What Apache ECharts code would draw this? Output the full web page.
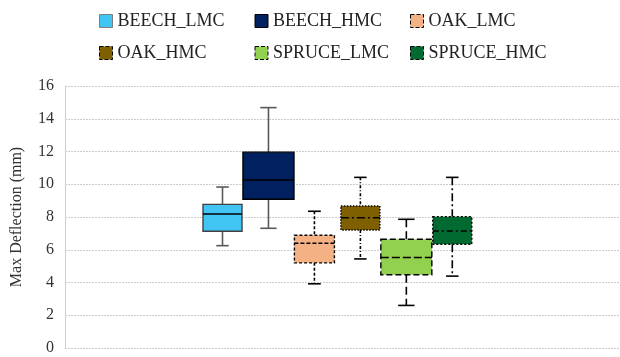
<!DOCTYPE html>
<html>
<head>
<meta charset="utf-8">
<script src="https://cdn.jsdelivr.net/npm/echarts@6/dist/echarts.min.js"></script>
<style>html,body{margin:0;padding:0;background:#fff}#c{width:620px;height:357px}</style>
</head>
<body>
<div id="c"></div>
<script>
// ---- data ----
var seriesNames = ['BEECH_LMC', 'BEECH_HMC', 'OAK_LMC', 'OAK_HMC', 'SPRUCE_LMC', 'SPRUCE_HMC'];
var minValues    = [6.25, 7.31, 3.92, 5.44, 2.60, 4.39];
var q1Values     = [7.13, 9.08, 5.20, 7.21, 4.47, 6.34];
var medianValues = [8.18, 10.26, 6.40, 7.96, 5.52, 7.15];
var q3Values     = [8.77, 11.96, 6.89, 8.67, 6.64, 8.02];
var maxValues    = [9.83, 14.68, 8.35, 10.42, 7.86, 10.42];
var yTicks = [0, 2, 4, 6, 8, 10, 12, 14, 16];

// ---- styles ----
var styles = [
  {fill: '#41c6f3', border: '#404040', borderDash: null, med: '#000', medDash: null, wh: '#595959', whDash: null, width: 39},
  {fill: '#002060', border: '#000000', borderDash: null, med: '#000', medDash: null, wh: '#595959', whDash: null, width: 51},
  {fill: '#f4b183', border: '#000000', borderDash: [3, 2], med: '#000', medDash: [4, 2], wh: '#000', whDash: [3, 2], width: 40},
  {fill: '#7f6000', border: '#000000', borderDash: [1.5, 1.5], med: '#000', medDash: [8, 3, 2, 3], wh: '#000', whDash: [3, 2, 1, 2], width: 39},
  {fill: '#92d050', border: '#000000', borderDash: [6, 3], med: '#000', medDash: [8, 3], wh: '#000', whDash: [8, 4], width: 51},
  {fill: '#006a30', border: '#000000', borderDash: [2, 2], med: '#000', medDash: [6, 3, 2, 3], wh: '#000', whDash: [8, 3, 2, 3], width: 39}
];
var serif = 'Liberation Serif';

function renderItem(params, api) {
  var st = styles[params.seriesIndex];
  var x = api.value(0);
  var cx = api.coord([x, 0])[0];
  var yMin = api.coord([x, api.value(1)])[1];
  var yQ1 = api.coord([x, api.value(2)])[1];
  var yMed = api.coord([x, api.value(3)])[1];
  var yQ3 = api.coord([x, api.value(4)])[1];
  var yMax = api.coord([x, api.value(5)])[1];
  var half = st.width / 2;
  var cap = st.width * 0.16;
  function line(x1, y1, x2, y2, color, dash, w) {
    return {type: 'line', shape: {x1: x1, y1: y1, x2: x2, y2: y2},
      style: {stroke: color, lineWidth: w, lineDash: dash || null, fill: null}};
  }
  return {
    type: 'group',
    children: [
      line(cx, yMax, cx, yQ3, st.wh, st.whDash, 1.6),
      line(cx, yQ1, cx, yMin, st.wh, st.whDash, 1.6),
      line(cx - cap, yMax, cx + cap, yMax, st.wh, null, 1.6),
      line(cx - cap, yMin, cx + cap, yMin, st.wh, null, 1.6),
      {type: 'rect', shape: {x: cx - half, y: yQ3, width: st.width, height: yQ1 - yQ3},
        style: {fill: st.fill, stroke: st.border, lineWidth: 1.4, lineDash: st.borderDash || null}},
      line(cx - half, yMed, cx + half, yMed, st.med, st.medDash, 1.5)
    ]
  };
}

var series = seriesNames.map(function (name, i) {
  return {
    name: name,
    type: 'custom',
    renderItem: renderItem,
    itemStyle: {color: styles[i].fill},
    encode: {x: 0, y: [1, 2, 3, 4, 5]},
    data: [[i, minValues[i], q1Values[i], medianValues[i], q3Values[i], maxValues[i]]]
  };
});

var legendData = seriesNames.map(function (name, i) {
  var st = styles[i];
  return {name: name, itemStyle: {color: st.fill, borderColor: i === 0 ? '#7f7f7f' : st.border,
    borderWidth: 1, borderType: st.borderDash ? 'dashed' : 'solid'}};
});

var chart = echarts.init(document.getElementById('c'), null, {renderer: 'canvas'});
chart.setOption({
  animation: false,
  backgroundColor: '#ffffff',
  legend: {
    data: legendData,
    left: 94, top: 5, width: 520,
    icon: 'rect', itemWidth: 13, itemHeight: 13, itemGap: 10,
    textStyle: {fontFamily: serif, fontSize: 18, color: '#222', width: 127, lineHeight: 22}
  },
  grid: {left: 65, right: 0, top: 86, bottom: 9},
  xAxis: {type: 'value', min: -3.427, max: 8.649, show: false},
  yAxis: {
    type: 'value', min: yTicks[0], max: yTicks[yTicks.length - 1], interval: 2,
    name: 'Max Deflection (mm)', nameLocation: 'middle', nameRotate: 90, nameGap: 40,
    nameTextStyle: {fontFamily: serif, fontSize: 16, color: '#333'},
    axisLine: {show: true, onZero: false, lineStyle: {color: '#cfcfcf', width: 1}},
    axisTick: {show: false},
    axisLabel: {fontFamily: serif, fontSize: 16, color: '#333', margin: 11},
    splitLine: {show: true, lineStyle: {color: '#cccccc', type: [2, 1], width: 1}}
  },
  series: series
});
</script>
</body>
</html>
